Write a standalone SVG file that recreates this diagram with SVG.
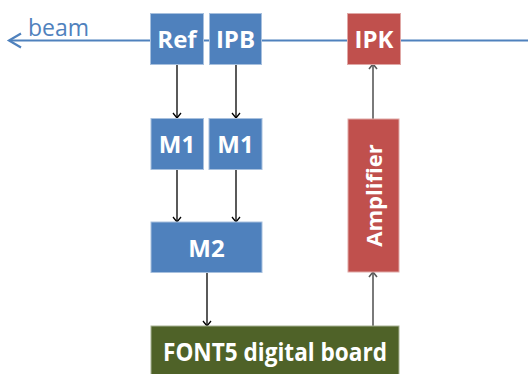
<svg xmlns="http://www.w3.org/2000/svg" width="528" height="374" viewBox="0 0 528 374">
<defs>
<style>
.blue{fill:#4F81BD;stroke:#A7C0DE;stroke-width:1}
.red{fill:#C0504D;stroke:#E0A8A6;stroke-width:1}
.green{fill:#4F6228;stroke:#A7B193;stroke-width:1}
.lbl{font-family:"Open Sans",sans-serif;font-weight:bold;fill:#FFFFFF;text-anchor:middle}
.k{stroke:#000;stroke-width:1.3;fill:none}
.g{stroke:#595959;stroke-width:1.6;fill:none}
</style>
<marker id="ak" markerWidth="10" markerHeight="10" refX="9" refY="5" orient="auto-start-reverse" markerUnits="userSpaceOnUse" viewBox="0 0 10 10">
<path d="M4,1 L9,5 L4,9" fill="none" stroke="#000" stroke-width="1.3"/>
</marker>
<marker id="ag" markerWidth="10" markerHeight="10" refX="9" refY="5" orient="auto-start-reverse" markerUnits="userSpaceOnUse" viewBox="0 0 10 10">
<path d="M4,1 L9,5 L4,9" fill="none" stroke="#595959" stroke-width="1.6"/>
</marker>
</defs>
<g id="beam">
<line x1="9" y1="40.5" x2="528" y2="40.5" stroke="#4F81BD" stroke-width="2.2"/>
<path d="M21,33.5 L9,40.5 L21,47.5" fill="none" stroke="#4F81BD" stroke-width="2.2"/>
<text x="28" y="36" font-family="'Open Sans',sans-serif" font-size="23" fill="#4F81BD">beam</text>
</g>
<g id="connectors">
<line class="k" x1="177" y1="64" x2="177" y2="118" marker-end="url(#ak)"/>
<line class="k" x1="236" y1="64" x2="236" y2="118" marker-end="url(#ak)"/>
<line class="k" x1="177" y1="169" x2="177" y2="222" marker-end="url(#ak)"/>
<line class="k" x1="236" y1="169" x2="236" y2="222" marker-end="url(#ak)"/>
<line class="k" x1="207" y1="272" x2="207" y2="326" marker-end="url(#ak)"/>
<line class="g" x1="373" y1="326" x2="373" y2="272" marker-end="url(#ag)"/>
<line class="g" x1="373" y1="119" x2="373" y2="64" marker-end="url(#ag)"/>
</g>
<g id="ref"><rect class="blue" x="150.5" y="13.5" width="53" height="51"/><text class="lbl" x="177" y="47.5" font-size="24">Ref</text></g>
<g id="ipb"><rect class="blue" x="209.5" y="13.5" width="52" height="51"/><text class="lbl" x="235.5" y="47.5" font-size="24">IPB</text></g>
<g id="ipk"><rect class="red" x="347.5" y="13.5" width="53" height="51"/><text class="lbl" x="374" y="47.5" font-size="24">IPK</text></g>
<g id="m1a"><rect class="blue" x="151" y="118.5" width="52.5" height="51"/><text class="lbl" x="177" y="153" font-size="24">M1</text></g>
<g id="m1b"><rect class="blue" x="209" y="118.5" width="53" height="51"/><text class="lbl" x="235.5" y="153" font-size="24">M1</text></g>
<g id="m2"><rect class="blue" x="151" y="222" width="111" height="50.5"/><text class="lbl" x="206.5" y="256.5" font-size="24">M2</text></g>
<g id="amp"><rect class="red" x="348" y="119" width="51" height="153"/><text class="lbl" x="0" y="0" font-size="22" transform="translate(382,195.5) rotate(-90)">Amplifier</text></g>
<g id="font5"><rect class="green" x="151" y="326" width="248" height="50"/><text class="lbl" x="275" y="361" font-size="25" textLength="224" lengthAdjust="spacingAndGlyphs">FONT5 digital board</text></g>
</svg>
